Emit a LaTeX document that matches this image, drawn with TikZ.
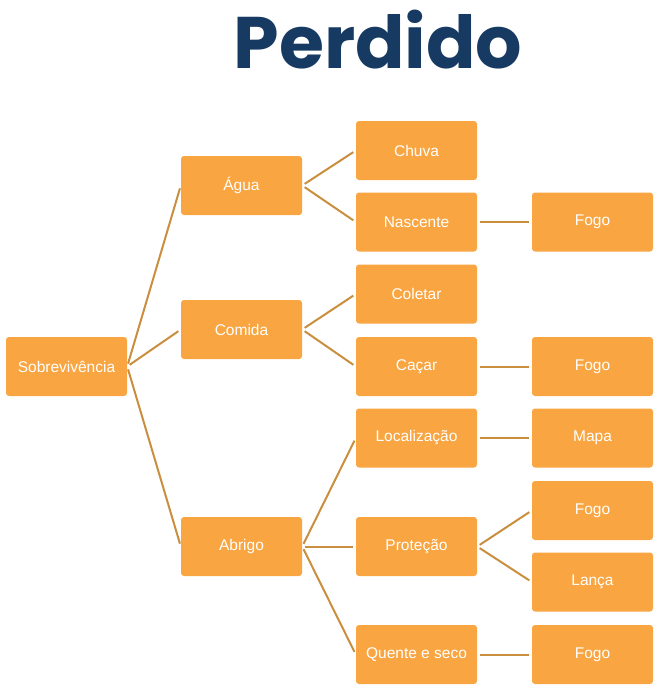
\documentclass[tikz,border=0pt]{standalone}
\usepackage{fontspec}
\setmainfont{Liberation Sans}
\newfontfamily\titlefont{Poppins}
\definecolor{boxfill}{HTML}{F9A541}
\definecolor{linecol}{HTML}{C98E3E}
\definecolor{navy}{HTML}{173A63}
\begin{document}
\begin{tikzpicture}[x=1pt,y=-1pt,
  box/.style={draw=none,fill=boxfill,rounded corners=3pt,minimum width=121pt,minimum height=59pt,inner sep=0pt,text=white,font=\fontsize{15.5}{18}\selectfont},
  conn/.style={draw=linecol,line width=2pt,shorten <=3pt,shorten >=3pt}]
\useasboundingbox (0,0) rectangle (670,693);
\node[font=\titlefont\bfseries\fontsize{73}{78}\selectfont,text=navy,anchor=base] (title) at (378,69) {Perdido};
\node[box] (sob) at (66.5,366.5) {Sobrevivência};
\node[box] (agua) at (241.5,185.5) {Água};
\node[box] (comida) at (241.5,329.5) {Comida};
\node[box] (abrigo) at (241.5,546.5) {Abrigo};
\node[box] (chuva) at (416.5,150.5) {Chuva};
\node[box] (nasc) at (416.5,222) {Nascente};
\node[box] (coletar) at (416.5,294) {Coletar};
\node[box] (cacar) at (416.5,366.5) {Caçar};
\node[box] (local) at (416.5,438) {Localização};
\node[box] (prot) at (416.5,546.5) {Proteção};
\node[box] (quente) at (416.5,654.5) {Quente e seco};
\node[box] (fogoa) at (592.5,222) {Fogo};
\node[box] (fogob) at (592.5,366.5) {Fogo};
\node[box] (mapa) at (592.5,438) {Mapa};
\node[box] (fogoc) at (592.5,510.5) {Fogo};
\node[box] (lanca) at (592.5,582) {Lança};
\node[box] (fogod) at (592.5,654.5) {Fogo};
\foreach \a/\b in {sob/agua,sob/comida,sob/abrigo,agua/chuva,agua/nasc,comida/coletar,comida/cacar,abrigo/local,abrigo/prot,abrigo/quente,nasc/fogoa,cacar/fogob,local/mapa,prot/fogoc,prot/lanca,quente/fogod}
  \draw[conn] (\a.east) -- (\b.west);
\end{tikzpicture}
\end{document}
